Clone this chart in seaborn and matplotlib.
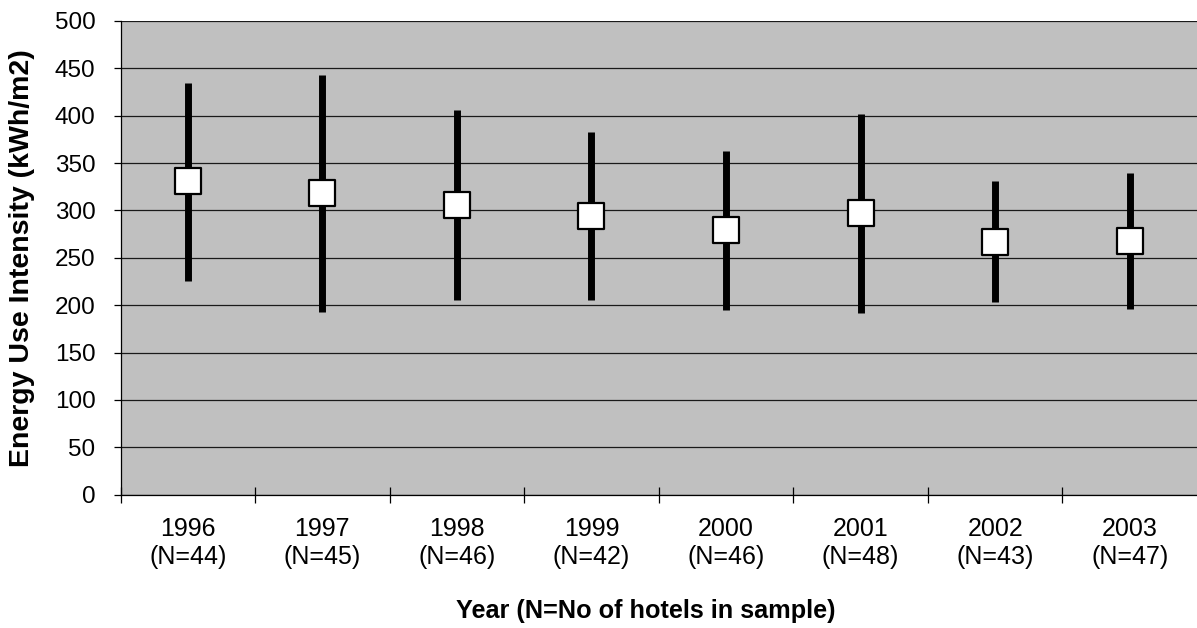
import matplotlib
matplotlib.use("Agg")
import matplotlib.pyplot as plt
import seaborn as sns
import pandas as pd
import numpy as np

years = ["1996", "1997", "1998", "1999", "2000", "2001", "2002", "2003"]
n_hotels = [44, 45, 46, 42, 46, 48, 43, 47]
mean_eui = [331, 318, 306, 294, 279, 297, 267, 268]
min_eui = [226, 193, 205, 206, 195, 192, 203, 196]
max_eui = [435, 443, 406, 383, 363, 402, 331, 340]

labels = [f"{y}\n(N={n})" for y, n in zip(years, n_hotels)]
df = pd.DataFrame({"label": labels, "mean": mean_eui, "lo": min_eui, "hi": max_eui})

sns.set_theme(style="white")
plt.rcParams["font.family"] = ["Liberation Sans", "DejaVu Sans"]
plt.rcParams["text.color"] = "black"
plt.rcParams["axes.labelcolor"] = "black"
plt.rcParams["xtick.color"] = "black"
plt.rcParams["ytick.color"] = "black"

fig = plt.figure(figsize=(11.97, 6.28), dpi=100)
ax = fig.add_axes([0.1007, 0.2123, 0.8993, 0.7543])
ax.set_facecolor("#C0C0C0")

pos = np.arange(len(labels))
ax.vlines(pos, df["lo"], df["hi"], color="black", linewidth=5, zorder=3)
sns.scatterplot(data=df, x="label", y="mean", marker="s", s=325, color="white",
                edgecolor="black", linewidth=1.6, ax=ax, zorder=4, legend=False)

ax.set_ylim(0, 500)
ax.set_xlim(-0.5, len(labels) - 0.5)
ax.set_yticks(np.arange(0, 501, 50))
ax.yaxis.grid(True, color="#1a1a1a", linewidth=0.9)
ax.set_axisbelow(True)

ax.set_xticks(pos)
ax.set_xticklabels(labels, fontsize=18, linespacing=1.2)
ax.set_xticks(np.arange(-0.5, len(labels) - 0.5, 1.0), minor=True)
ax.tick_params(axis="x", which="major", length=0, pad=16)
ax.tick_params(axis="x", which="minor", direction="inout", length=11, width=0.9, color="black", bottom=True)
ax.tick_params(axis="y", which="major", direction="out", length=5, width=0.9, color="black", labelsize=17.5, pad=13, left=True)

for side in ["top", "right"]:
    ax.spines[side].set_visible(False)
for side in ["left", "bottom"]:
    ax.spines[side].set_color("black")
    ax.spines[side].set_linewidth(0.9)

ax.set_xlabel("Year (N=No of hotels in sample)", fontsize=18.2, fontweight="bold", va="center")
ax.set_ylabel("Energy Use Intensity (kWh/m2)", fontsize=20.5, fontweight="bold", va="center")
ax.xaxis.set_label_coords(0.4877, -0.2455)
ax.yaxis.set_label_coords(-0.0915, 0.5)

fig.savefig("out.png", dpi=100)
